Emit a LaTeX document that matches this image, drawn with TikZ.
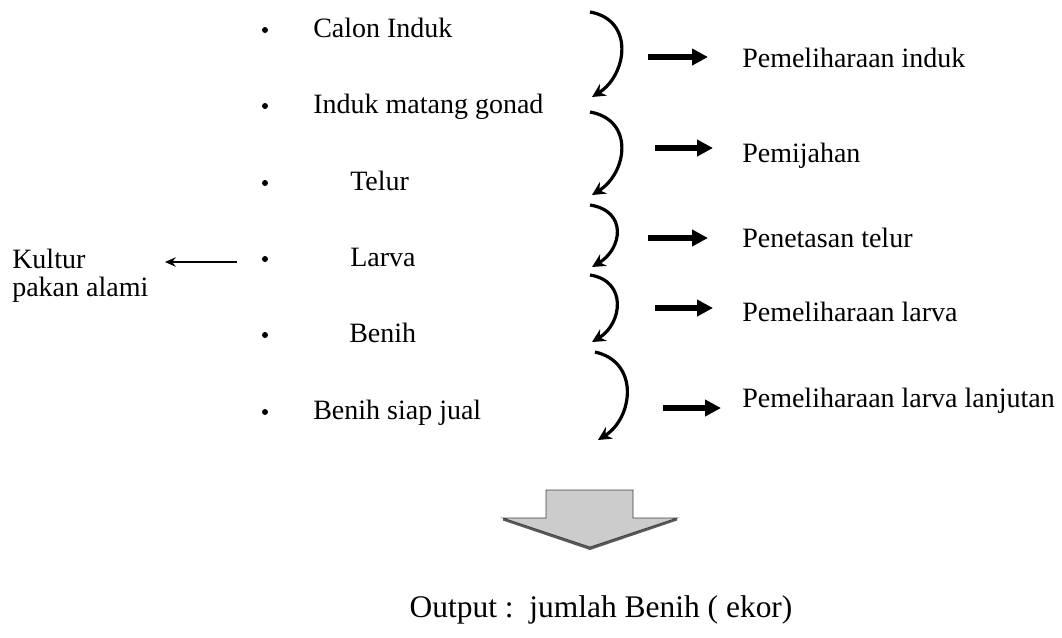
\documentclass[tikz,border=0pt]{standalone}
\usepackage{fontspec}
\setmainfont{Liberation Serif}
\usepackage{tikz}
\usetikzlibrary{arrows.meta}

\begin{document}
\begin{tikzpicture}[x=0.75pt,y=-0.75pt,
	lbl/.style={inner sep=0pt, anchor=base west, font=\fontsize{21}{21}\selectfont},
	dot/.style={circle, fill=black, inner sep=0pt, minimum size=4.5pt},
	curl/.style={line width=2.4pt, -{Stealth[length=10pt, width=10pt]}},
	fat/.style={line width=3.8pt, -{Triangle[length=12pt, width=12pt]}},
	thin/.style={line width=1.5pt, -{Stealth[length=8pt, width=7pt]}}]
	
	\useasboundingbox (0,0) rectangle (1062,637);
	
	% stages
	\node[dot] (b1) at (265,30) {};
	\node[dot] (b2) at (265,106) {};
	\node[dot] (b3) at (265,183) {};
	\node[dot] (b4) at (265,259) {};
	\node[dot] (b5) at (265,335) {};
	\node[dot] (b6) at (265,412) {};
	\node[lbl] (calon) at (313,37) {Calon Induk};
	\node[lbl] (induk) at (313,113) {Induk matang gonad};
	\node[lbl] (telur) at (350,190) {Telur};
	\node[lbl] (larva) at (350,266) {Larva};
	\node[lbl] (benih) at (349,342) {Benih};
	\node[lbl] (siap) at (313,419) {Benih siap jual};
	
	% side input
	\node[lbl, anchor=north west, align=left] (kultur) at (12,249) {Kultur\\pakan alami};
	\coordinate (k1) at (237,262);
	\coordinate (k2) at (165,262);
	\draw[thin] (k1) -- (k2);
	
	% curls between stages
	\coordinate (c1s) at (590,12);  \coordinate (c1e) at (592,97);
	\coordinate (c2s) at (590,112); \coordinate (c2e) at (592,195);
	\coordinate (c3s) at (590,205); \coordinate (c3e) at (592,267);
	\coordinate (c4s) at (590,275); \coordinate (c4e) at (592,342);
	\coordinate (c5s) at (595,352); \coordinate (c5e) at (598,440);
	\draw[curl] (c1s) .. controls +(45,8) and +(35,-22) .. (c1e);
	\draw[curl] (c2s) .. controls +(45,8) and +(35,-22) .. (c2e);
	\draw[curl] (c3s) .. controls +(38,6) and +(30,-18) .. (c3e);
	\draw[curl] (c4s) .. controls +(38,6) and +(30,-18) .. (c4e);
	\draw[curl] (c5s) .. controls +(45,10) and +(35,-22) .. (c5e);
	
	% activities
	\coordinate (a1s) at (648,57);  \coordinate (a1e) at (708,57);
	\coordinate (a2s) at (655,148); \coordinate (a2e) at (713,148);
	\coordinate (a3s) at (648,238); \coordinate (a3e) at (708,238);
	\coordinate (a4s) at (655,308); \coordinate (a4e) at (713,308);
	\coordinate (a5s) at (663,408); \coordinate (a5e) at (721,408);
	\draw[fat] (a1s) -- (a1e);
	\draw[fat] (a2s) -- (a2e);
	\draw[fat] (a3s) -- (a3e);
	\draw[fat] (a4s) -- (a4e);
	\draw[fat] (a5s) -- (a5e);
	\node[lbl] (p1) at (742,67) {Pemeliharaan induk};
	\node[lbl] (p2) at (742,162) {Pemijahan};
	\node[lbl] (p3) at (742,247) {Penetasan telur};
	\node[lbl] (p4) at (742,321) {Pemeliharaan larva};
	\node[lbl] (p5) at (742,407) {Pemeliharaan larva lanjutan};
	
	% block arrow
	\fill[black!65] (503,518) -- (677,518) -- (677,520.5) -- (590,550) -- (503,520.5) -- cycle;
	\draw[black!75, fill=black!20, line width=0.6pt] (546,490) -- (633,490) -- (633,518) -- (677,518) -- (590,547) -- (503,518) -- (546,518) -- cycle;
	
	\node[inner sep=0pt, anchor=base, font=\fontsize{23.6}{23.6}\selectfont] (out) at (601,617) {Output :\ \ jumlah Benih ( ekor)};
	
\end{tikzpicture}
\end{document}
